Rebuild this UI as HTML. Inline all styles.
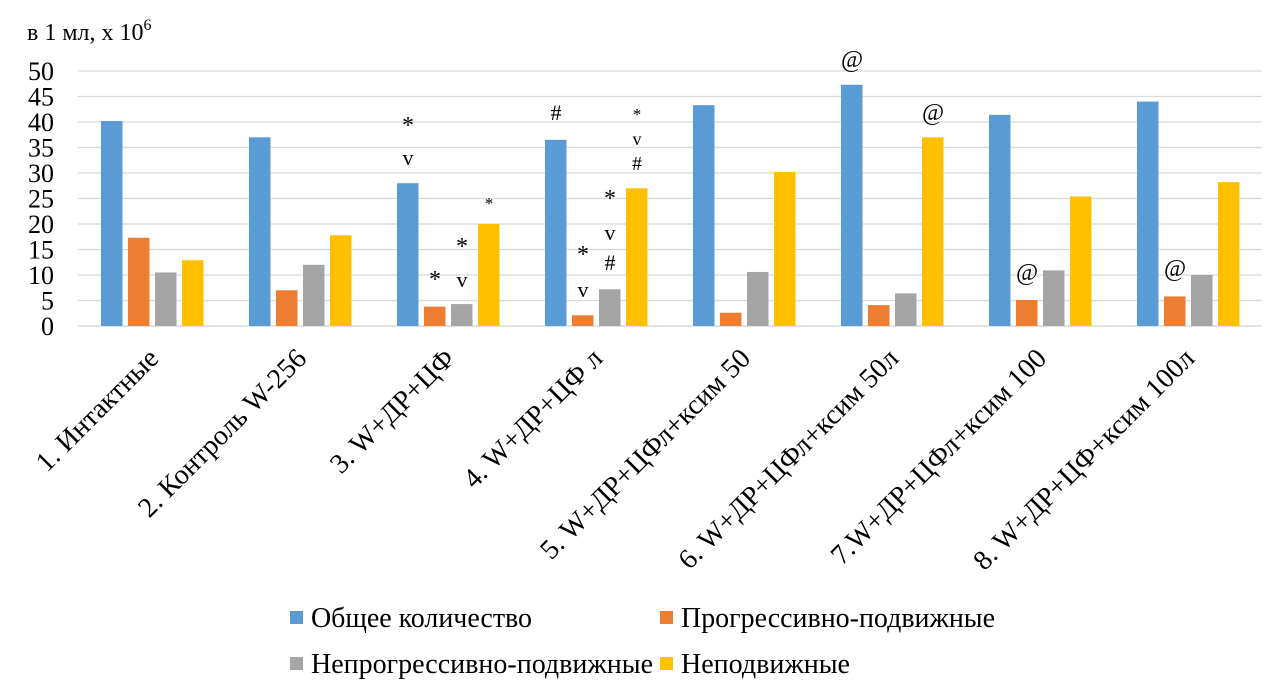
<!DOCTYPE html>
<html><head><meta charset="utf-8"><style>
body{margin:0;background:#fff;}
svg{display:block;font-family:"Liberation Serif","DejaVu Serif",serif;}
</style></head><body>
<svg id="chart" width="1282" height="692" viewBox="0 0 1282 692">
<text x="27" y="40" font-size="24" fill="#000">в 1 мл, х 10<tspan font-size="16" dy="-10">6</tspan></text>
<g id="grid"></g><g id="ticks"></g><g id="bars"></g><g id="notes"></g><g id="xlabels"></g>
<g font-size="28">
<rect x="290" y="611" width="13" height="13" fill="#5b9bd5"/>
<text x="311" y="627" textLength="221" lengthAdjust="spacingAndGlyphs">Общее количество</text>
<rect x="660" y="611" width="13" height="13" fill="#ed7d31"/>
<text x="681" y="627" textLength="314" lengthAdjust="spacingAndGlyphs">Прогрессивно-подвижные</text>
<rect x="290" y="657" width="13" height="13" fill="#a5a5a5"/>
<text x="311" y="673" textLength="342" lengthAdjust="spacingAndGlyphs">Непрогрессивно-подвижные</text>
<rect x="660" y="657" width="13" height="13" fill="#ffc000"/>
<text x="681" y="673" textLength="169" lengthAdjust="spacingAndGlyphs">Неподвижные</text>
</g>
</svg>
<script>
const categories=["1. Интактные","2. Контроль W-256","3. W+ДР+ЦФ","4. W+ДР+ЦФ л","5. W+ДР+ЦФл+ксим 50","6. W+ДР+ЦФл+ксим 50л","7.W+ДР+ЦФл+ксим 100","8. W+ДР+ЦФ+ксим 100л"];
const totalVals=[40.2,37,28,36.5,43.3,47.3,41.4,44];
const progVals=[17.3,7,3.8,2.1,2.6,4.1,5.1,5.8];
const nonprogVals=[10.5,12,4.3,7.2,10.6,6.4,10.9,10];
const immotileVals=[12.9,17.8,20,27,30.2,37,25.4,28.2];
const yTicks=[0,5,10,15,20,25,30,35,40,45,50];
const NS="http://www.w3.org/2000/svg";
const x0=78,x1=1262,yb=326,yt=71,yMax=50;
const gw=(x1-x0)/categories.length;
const y=v=>yb-(yb-yt)*v/yMax;
const barX=(g,b)=>x0+gw*g+gw/2-51+b*27;
function mk(tag,attrs,parent){const e=document.createElementNS(NS,tag);for(const k in attrs)e.setAttribute(k,attrs[k]);document.getElementById(parent).appendChild(e);return e;}
yTicks.forEach(t=>{
 const l=mk('line',{x1:x0,x2:x1,y1:y(t),y2:y(t),stroke:'#d9d9d9','stroke-width':t===0?1.5:1.2},'grid');
 
 
 const tx=mk('text',{x:54,y:y(t)+9,'text-anchor':'end','font-size':26},'ticks');
 
 
 tx.textContent=t;
});
const series=[[totalVals,'#5b9bd5','total'],[progVals,'#ed7d31','progressive'],[nonprogVals,'#a5a5a5','nonprogressive'],[immotileVals,'#ffc000','immotile']];
categories.forEach((c,g)=>{
 series.forEach(([vals,col,nm],b)=>{
  const r=mk('rect',{x:barX(g,b),y:y(vals[g]),width:21.5,height:yb-y(vals[g]),fill:col},'bars');
  
  
 });
 const cx=x0+gw*g+gw/2+8;
 const cy=360;
 const t=mk('text',{x:cx,y:cy,'text-anchor':'end','font-size':28,transform:`rotate(-45 ${cx} ${cy})`},'xlabels');
 
 
 t.textContent=c;
});
const notes=[[2,0,121,'*',24],[2,0,158,'v',22],[2,1,275,'*',24],[2,2,242,'*',24],[2,2,280,'v',22],[2,3,197,'*',17],
[3,0,113,'#',22],[3,1,250,'*',24],[3,1,290,'v',22],[3,2,194,'*',24],[3,2,233,'v',22],[3,2,263,'#',22],[3,3,108,'*',17],[3,3,138,'v',18],[3,3,163,'#',20],
[5,0,60,'@',24],[5,3,113,'@',24],[6,1,273,'@',24],[7,1,269,'@',24]];
notes.forEach(([g,b,yy,s,fs])=>{
 const t=mk('text',{x:barX(g,b)+11,y:yy+(s==='*'?12:7),'text-anchor':'middle','font-size':fs},'notes');
 
 
 t.textContent=s;
});
</script>
</body></html>
